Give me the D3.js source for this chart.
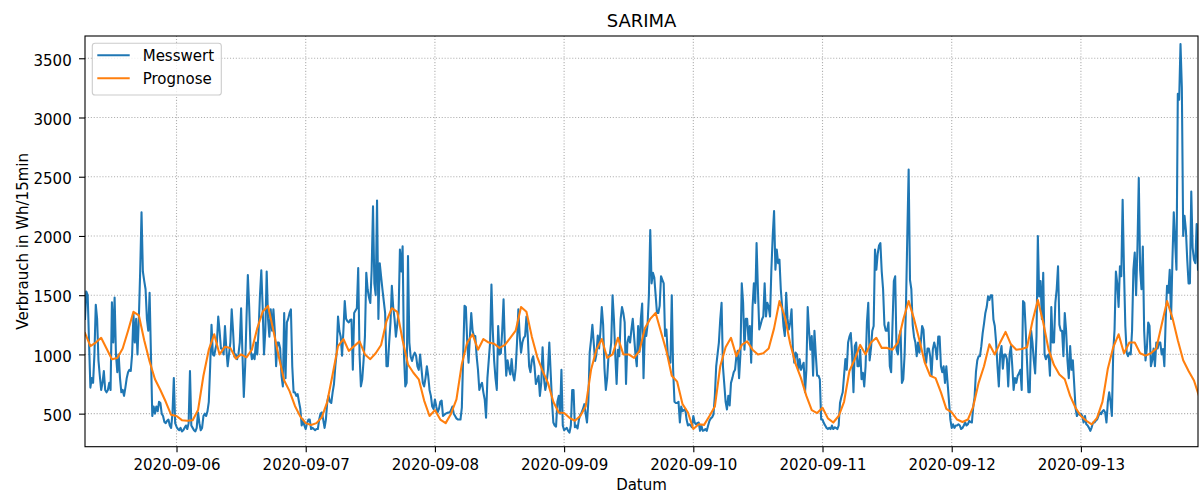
<!DOCTYPE html>
<html>
<head>
<meta charset="utf-8">
<title>SARIMA</title>
<script src="https://cdn.jsdelivr.net/npm/d3@7"></script>
<style>
  html, body { margin: 0; padding: 0; background: #ffffff; }
  svg { display: block; font-family: "DejaVu Sans", sans-serif; }
</style>
</head>
<body>
<svg id="chart" width="1200" height="494"></svg>
<script>
// Series metadata
const seriesNames = ["Messwert", "Prognose"];
const seriesColors = ["#1f77b4", "#ff7f0e"];
const seriesStart = "2020-09-05T07:00";
const seriesEnd = "2020-09-13T21:45";
const messwertStepMinutes = 15;
const prognoseStepMinutes = 60;

// Measured consumption (Wh per 15 min), quarter-hourly from the series start
const messwert = [
  1300,1530,1500,1100,720,800,760,1000,1420,1300,950,820,700,760,860,700,680,700,760,700,
  1440,1100,1480,1000,850,1000,800,680,700,650,720,800,850,870,860,1000,1340,1100,1300,1000,
  1300,1700,2200,1700,1620,1550,1300,1200,1520,1000,480,560,500,560,520,600,590,500,480,430,
  420,440,450,400,380,500,800,420,390,370,360,380,350,360,380,400,370,420,860,400,
  380,360,350,380,510,420,360,380,480,500,480,520,600,900,1250,1000,990,1050,1100,1320,
  1200,1050,1050,1000,1240,1050,900,1000,1100,1380,1200,980,1000,960,1000,1100,1390,1000,640,900,
  1300,1670,1400,1050,960,1000,960,1100,1000,1200,1500,1710,1400,1000,1200,1700,1300,1150,1380,1200,
  1380,1200,
  900,1100,1100,1050,820,730,1350,800,1270,1300,1350,1380,900,680,680,650,665,600,540,400,
  450,400,370,420,450,450,370,380,370,360,370,370,450,500,510,450,380,450,600,650,
  600,590,680,750,900,1015,1320,1200,1150,990,1200,1450,1300,1280,1270,1290,1295,870,1350,1370,
  1390,1730,1000,730,790,950,1150,1690,1550,1480,1435,1715,2250,1600,1500,2300,1300,1770,1660,1550,
  1450,1350,900,900,1100,1270,1580,1400,1300,1150,1250,1350,1885,1700,1913,1000,730,760,1830,1100,
  980,945,990,1015,990,900,870,1000,880,760,730,800,900,820,700,650,560,540,620,560,
  510,540,600,610,480,490,500,505,510,510,530,560,500,480,460,450,450,450,
  550,985,1410,1400,1100,930,1150,1350,1200,1155,1155,985,870,700,740,760,680,620,465,800,
  950,1100,1590,1200,950,800,700,1240,1000,1010,1200,1465,1070,820,950,880,830,960,830,780,
  880,1100,1380,1155,1015,1100,1140,1155,1320,1155,900,850,950,985,900,750,780,820,650,760,
  1060,800,700,760,870,1100,850,600,425,400,390,600,650,500,870,400,360,370,380,355,
  340,400,700,700,385,400,375,450,490,510,540,580,500,425,600,1015,1120,1250,1100,945,
  1000,1160,1050,1200,1400,1250,880,700,800,990,1000,1100,1500,1300,1000,750,1040,985,1300,1400,
  1350,1270,750,1100,1150,1100,1210,1300,1150,1000,900,1240,1020,1300,1430,800,
  1210,1155,1250,1500,2050,1600,1690,1650,1500,1350,1350,1410,1660,1630,1600,1155,1210,1000,960,930,
  1500,870,600,590,590,600,425,560,520,530,540,450,400,410,400,385,480,425,410,420,
  425,355,400,355,360,370,355,400,440,460,470,495,650,900,1000,1100,1295,1435,900,750,
  600,535,650,570,760,800,850,870,985,1030,800,1000,1600,1435,1040,1300,1300,1125,1240,930,
  1400,1600,1435,1940,1550,1210,1250,1295,1320,1600,1320,1435,1400,1320,1715,2000,2210,1715,1885,1770,
  1800,1550,1400,1240,1155,1520,1300,1210,1270,1380,1040,930,1015,1000,870,960,870,900,930,680,
  870,1400,1200,1040,1155,820,1200,1000,820,820,790,450,450,420,400,380,370,380,
  370,400,370,385,380,370,400,590,640,680,820,960,870,1100,1150,1180,1000,680,1070,1100,
  900,900,1040,790,845,730,900,1270,1435,950,1050,1200,1240,1885,1715,1850,1920,1940,1700,1550,
  1250,1200,1200,1270,900,850,1250,1620,1660,1040,1000,1150,1200,760,790,1000,1400,2000,2560,1630,
  1550,1250,1150,1100,985,1100,1015,1100,1240,1210,1015,930,1050,1050,985,820,1045,1100,1050,960,
  1150,1150,900,850,900,760,900,750,600,450,380,410,380,400,400,410,400,370,380,400,
  425,400,410,440,430,425,560,640,850,950,985,985,1070,1180,1260,1350,1400,1490,1460,1500,
  1500,1295,1240,1100,900,730,1000,1070,880,1000,1000,960,730,1000,1070,900,700,800,
  760,820,840,870,700,1450,1435,1200,930,680,680,1200,1100,950,840,1155,2000,1490,1620,1300,
  1690,1000,960,990,1000,820,1400,1100,1100,1435,1550,1745,1250,1200,1200,985,1350,1200,950,800,
  1070,870,950,750,550,480,510,490,500,480,425,480,410,400,380,355,385,425,425,440,
  450,480,510,495,520,530,510,425,600,680,600,480,1015,1210,1700,1600,1400,1745,1660,2306,
  1715,1240,1015,985,1015,1000,1200,1715,1860,1500,1900,2490,1715,1550,1910,1200,950,1050,1270,1240,
  900,950,1050,900,1100,1050,1100,1100,1000,1045,900,1300,1580,1520,1715,1300,1800,2200,1950,1715,
  3200,3150,3620,3250,2000,2170,2050,1800,1600,1600,2375,1900,1800,1770,2100,1715
];

// SARIMA forecast (Wh per 15 min), hourly from the series start
const prognose = [
  1180,1070,1100,1140,1050,960,970,1050,1200,1360,
  1330,1120,940,790,700,600,490,480,445,440,
  445,530,820,1040,1170,1000,1065,1055,965,1000,
  975,1040,1220,1360,1410,1200,
  980,780,690,565,475,420,405,420,470,600,
  830,1070,1130,1030,1070,1110,1000,960,1010,1080,
  1280,1390,1360,1120,915,845,790,610,480,530,
  450,420,500,620,
  920,1100,1170,1040,1130,1100,1090,1055,1080,1140,
  1200,1400,1360,1150,980,860,760,600,510,505,
  465,440,480,560,870,1040,1130,970,1000,1140,
  1000,1000,970,1030,1220,
  1300,1350,1190,1030,820,770,580,510,370,410,
  405,480,560,900,1060,1140,985,1080,1110,1040,
  1000,1010,1050,1220,1450,1320,1090,920,800,650,
  530,505,550,460,
  425,480,600,860,960,1080,1000,1100,1140,1055,
  1055,1040,1100,1295,1450,1300,1120,930,820,800,
  680,540,510,450,430,450,560,760,900,1085,
  1000,1100,1190,1085,
  1040,1045,1060,1280,1460,1270,1040,910,830,790,
  650,550,480,440,410,465,600,880,1060,1170,
  1010,1100,1100,1010,990,1010,1050,1250,1450,1310,
  1120,950,860,780,640
];

// Axis ticks and labels
const xTickDays = ["2020-09-06","2020-09-07","2020-09-08","2020-09-09",
                   "2020-09-10","2020-09-11","2020-09-12","2020-09-13"];
const yTickValues = [500, 1000, 1500, 2000, 2500, 3000, 3500];
const yDomain = [221, 3688];
const titleText = "SARIMA";
const xLabelText = "Datum";
const yLabelText = "Verbrauch in Wh/15min";

// Layout
const plot = { left: 85, right: 1198, top: 36, bottom: 446.7 };
const fontSize = 15;

const parseTime = d3.utcParse("%Y-%m-%dT%H:%M");
const parseDay = d3.utcParse("%Y-%m-%d");
const formatDay = d3.utcFormat("%Y-%m-%d");
const t0 = parseTime(seriesStart);

const toPoints = (values, stepMinutes) =>
  values.map((v, i) => ({ t: d3.utcMinute.offset(t0, i * stepMinutes), v }));

const messwertPoints = toPoints(messwert, messwertStepMinutes);
const prognosePoints = toPoints(prognose, prognoseStepMinutes);

const x = d3.scaleUtc()
  .domain([t0, parseTime(seriesEnd)])
  .range([plot.left, plot.right]);
const y = d3.scaleLinear()
  .domain(yDomain)
  .range([plot.bottom, plot.top]);

const svg = d3.select("#chart");

svg.append("defs").append("clipPath").attr("id", "plot-clip")
  .append("rect")
  .attr("x", plot.left).attr("y", plot.top)
  .attr("width", plot.right - plot.left)
  .attr("height", plot.bottom - plot.top);

// Dotted grid
const xTicks = xTickDays.map(parseDay);
const grid = svg.append("g")
  .attr("stroke", "#b0b0b0")
  .attr("stroke-width", 1.1)
  .attr("stroke-dasharray", "1.1,1.8");
grid.selectAll("line.vx").data(xTicks).join("line")
  .attr("class", "vx")
  .attr("x1", d => x(d)).attr("x2", d => x(d))
  .attr("y1", plot.top).attr("y2", plot.bottom);
grid.selectAll("line.hy").data(yTickValues).join("line")
  .attr("class", "hy")
  .attr("x1", plot.left).attr("x2", plot.right)
  .attr("y1", d => y(d)).attr("y2", d => y(d));

// Lines
const lineGen = d3.line().x(d => x(d.t)).y(d => y(d.v));
const lines = svg.append("g").attr("clip-path", "url(#plot-clip)")
  .attr("fill", "none")
  .attr("stroke-width", 2.08)
  .attr("stroke-linejoin", "round")
  .attr("stroke-linecap", "square");
lines.append("path").datum(messwertPoints)
  .attr("stroke", seriesColors[0]).attr("d", lineGen);
lines.append("path").datum(prognosePoints)
  .attr("stroke", seriesColors[1]).attr("d", lineGen);

// Axes
const xAxis = d3.axisBottom(x)
  .tickValues(xTicks)
  .tickFormat(formatDay)
  .tickSize(5.5)
  .tickPadding(7);
const yAxis = d3.axisLeft(y)
  .tickValues(yTickValues)
  .tickFormat(d3.format("d"))
  .tickSize(6)
  .tickPadding(7.3);

const gx = svg.append("g").attr("transform", `translate(0,${plot.bottom})`).call(xAxis);
const gy = svg.append("g").attr("transform", `translate(${plot.left},0)`).call(yAxis);
[gx, gy].forEach(g => {
  g.select(".domain").remove();
  g.selectAll(".tick line").attr("stroke", "#000").attr("stroke-width", 1.1);
  g.selectAll(".tick text")
    .attr("fill", "#000")
    .style("font-family", "'DejaVu Sans', sans-serif")
    .style("font-size", fontSize + "px");
});
gy.selectAll(".tick text").attr("dy", "0.45em");

// Frame
svg.append("rect")
  .attr("x", plot.left).attr("y", plot.top)
  .attr("width", plot.right - plot.left)
  .attr("height", plot.bottom - plot.top)
  .attr("fill", "none")
  .attr("stroke", "#000")
  .attr("stroke-width", 1.1);

// Title and axis labels
svg.append("text")
  .attr("x", (plot.left + plot.right) / 2).attr("y", 26.5)
  .attr("text-anchor", "middle")
  .style("font-size", "18px")
  .text(titleText);
svg.append("text")
  .attr("x", (plot.left + plot.right) / 2).attr("y", 489.5)
  .attr("text-anchor", "middle")
  .style("font-size", fontSize + "px")
  .text(xLabelText);
svg.append("text")
  .attr("transform", `translate(28,${(plot.top + plot.bottom) / 2}) rotate(-90)`)
  .attr("text-anchor", "middle")
  .style("font-size", fontSize + "px")
  .text(yLabelText);

// Legend
const legend = svg.append("g");
legend.append("rect")
  .attr("x", 92.3).attr("y", 43.3)
  .attr("width", 129).attr("height", 51.7)
  .attr("rx", 2.8)
  .attr("fill", "#ffffff").attr("fill-opacity", 0.8)
  .attr("stroke", "#cccccc").attr("stroke-width", 1.1);
const legendRows = legend.selectAll("g.row")
  .data(seriesNames.map((name, i) => ({ name, color: seriesColors[i], i })))
  .join("g").attr("class", "row")
  .attr("transform", d => `translate(0,${55.3 + d.i * 23})`);
legendRows.append("line")
  .attr("x1", 97.3).attr("x2", 129.7)
  .attr("stroke", d => d.color).attr("stroke-width", 2.08);
legendRows.append("text")
  .attr("x", 142.7).attr("dy", "0.36em")
  .style("font-size", fontSize + "px")
  .text(d => d.name);
</script>
</body>
</html>
